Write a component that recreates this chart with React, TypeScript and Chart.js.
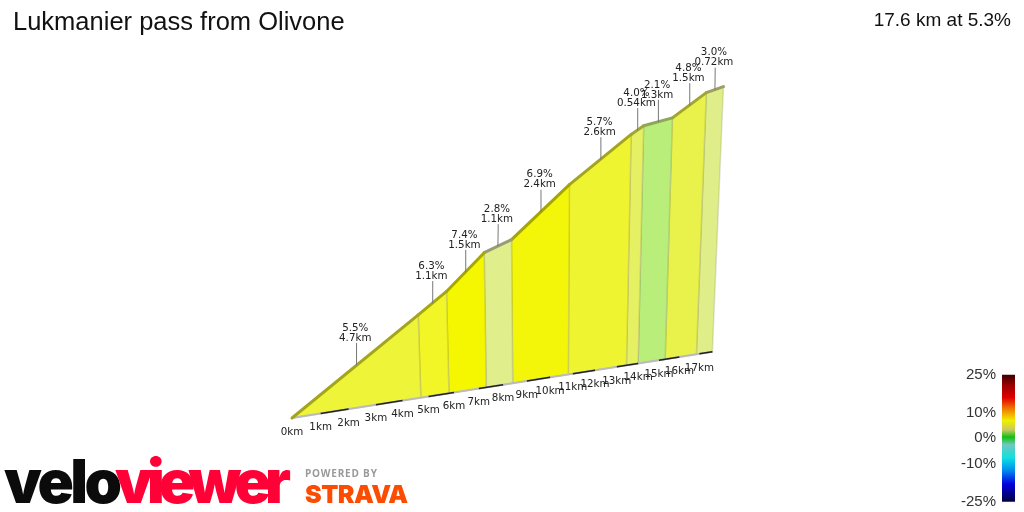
import React, { useEffect, useRef } from "react";
import { Chart, registerables } from "chart.js";

Chart.register(...registerables);

// climb segments
const segmentGrades = [5.5, 6.3, 7.4, 2.8, 6.9, 5.7, 4.0, 2.1, 4.8, 3.0];
const segmentLengths = ["4.7km", "1.1km", "1.5km", "1.1km", "2.4km", "2.6km", "0.54km", "1.3km", "1.5km", "0.72km"];
// distance and metres climbed at each segment boundary
const boundaryKm = [0, 4.7, 5.8, 7.3, 8.4, 10.8, 13.45, 14.0, 15.3, 16.85, 17.66];
const boundaryClimb = [0, 258, 321, 432, 466, 633, 792, 820, 844, 930, 950];
const kmTicks = [0, 1, 2, 3, 4, 5, 6, 7, 8, 9, 10, 11, 12, 13, 14, 15, 16, 17];
const legendTicks = [25, 10, 0, -10, -25];
const legendStops = [25, 21, 16, 12, 7, 3.3, 0.5, -2.5, -7.7, -12.4, -18, -25];

const segmentFills = ["#eef437", "#f2f526", "#f5f700", "#e0ee8c", "#f4f60a", "#eff431", "#e6f063", "#b9ee7a", "#e8f24a", "#dfee88"];
const ridgeColors = ["#a3a51c", "#a5a612", "#a6a800", "#9c9c72", "#a5a605", "#a3a51e", "#a2a53c", "#8fa858", "#a2a52e", "#9c9f60"];
const legendColors = ["#3c0000", "#9a0000", "#e00000", "#f07000", "#f0f000", "#c8c860", "#10c010", "#70c8c0", "#10e0e0", "#0090f0", "#0000e0", "#000040"];

// the profile is a wall seen in perspective, so km and metres go through this before plotting
function project(km: number, climb: number) {
  const depth = 1 + 0.01236 * km;
  const baseX = 292 + (29 * km) / depth;
  const baseY = 418 - 0.1575 * (baseX - 292);
  const h = (0.34 * climb) / depth;
  return { x: baseX + (baseX - 545) * 0.00025 * h, y: baseY - h };
}

const midpoint = (i: number) =>
  project((boundaryKm[i] + boundaryKm[i + 1]) / 2, (boundaryClimb[i] + boundaryClimb[i + 1]) / 2);

const textPlugin = {
  id: "profileText",
  afterDraw(chart: any) {
    const { ctx, scales } = chart;
    ctx.save();
    ctx.textBaseline = "middle";

    // headline
    ctx.fillStyle = "#111";
    ctx.textAlign = "left";
    ctx.font = '25.5px "Liberation Sans"';
    ctx.fillText("Lukmanier pass from Olivone", 13, 23);
    ctx.textAlign = "right";
    ctx.font = '19px "Liberation Sans"';
    ctx.fillText("17.6 km at 5.3%", 1011, 21);

    // km labels under the base line
    ctx.textAlign = "center";
    ctx.font = '10.3px "DejaVu Sans"';
    ctx.fillStyle = "#222";
    kmTicks.forEach((km) => {
      const p = project(km, 0);
      ctx.fillText(km + "km", scales.x.getPixelForValue(p.x), scales.y.getPixelForValue(p.y) + 14);
    });

    // segment labels on top of the leaders
    segmentGrades.forEach((grade, i) => {
      const p = midpoint(i);
      const x = scales.x.getPixelForValue(p.x) - 1;
      const y = scales.y.getPixelForValue(p.y);
      ctx.fillText(grade.toFixed(1) + "%", x, y - 37);
      ctx.fillText(segmentLengths[i], x, y - 27);
    });

    // gradient legend
    ctx.textAlign = "right";
    ctx.font = '15px "Liberation Sans"';
    ctx.fillStyle = "#333";
    legendTicks.forEach((t) => {
      ctx.fillText(t + "%", 996, scales.pct.getPixelForValue(t));
    });

    // logos
    ctx.textAlign = "left";
    ctx.textBaseline = "alphabetic";
    ctx.font = "900 60px Inter";
    ctx.letterSpacing = "-3.5px";
    ctx.fillStyle = "#0b0b0b";
    ctx.fillText("velo", 4, 503);
    ctx.letterSpacing = "-6px";
    ctx.fillStyle = "#ff0037";
    ctx.fillText("viewer", 115, 503);
    ctx.letterSpacing = "0.8px";
    ctx.font = '700 10px "Open Sans"';
    ctx.fillStyle = "#999";
    ctx.fillText("POWERED BY", 305, 477);
    ctx.letterSpacing = "-0.5px";
    ctx.font = "900 25px Inter";
    ctx.fillStyle = "#fc4c02";
    ctx.fillText("STRAVA", 305, 503);
    ctx.restore();
  },
};

function buildDatasets() {
  const sets: any[] = [];

  // leaders
  segmentGrades.forEach((_, i) => {
    const p = midpoint(i);
    sets.push({
      data: [p, { x: p.x + 0.3, y: p.y - 22 }],
      borderColor: "#777",
      borderWidth: 1,
    });
  });

  // ridge line, one piece per segment
  segmentGrades.forEach((_, i) => {
    sets.push({
      data: [project(boundaryKm[i], boundaryClimb[i]), project(boundaryKm[i + 1], boundaryClimb[i + 1])],
      borderColor: ridgeColors[i],
      borderWidth: 3,
      borderCapStyle: "round",
    });
  });

  // odd kilometres are dark on the base line
  kmTicks.filter((km) => km % 2 === 1).forEach((km) => {
    sets.push({
      data: [project(km, 0), project(Math.min(km + 1, boundaryKm[boundaryKm.length - 1]), 0)],
      borderColor: "#222",
      borderWidth: 1.5,
    });
  });
  sets.push({
    data: [project(0, 0), project(boundaryKm[boundaryKm.length - 1], 0)],
    borderColor: "#bbb",
    borderWidth: 2,
  });

  // segment walls
  segmentGrades.forEach((_, i) => {
    sets.push({
      data: [
        project(boundaryKm[i], 0),
        project(boundaryKm[i], boundaryClimb[i]),
        project(boundaryKm[i + 1], boundaryClimb[i + 1]),
        project(boundaryKm[i + 1], 0),
        project(boundaryKm[i], 0),
      ],
      borderColor: "rgba(110,110,80,0.2)",
      borderWidth: 1.5,
      backgroundColor: segmentFills[i],
      fill: "shape",
    });
  });

  // legend bar, on its own percent scale
  const barLeft = 1002;
  const barRight = 1015;
  sets.push({
    yAxisID: "pct",
    data: [
      { x: barLeft, y: 25 },
      { x: barRight, y: 25 },
      { x: barRight, y: -25 },
      { x: barLeft, y: -25 },
      { x: barLeft, y: 25 },
    ],
    borderWidth: 0,
    borderColor: "transparent",
    fill: "shape",
    backgroundColor: (c: any) => {
      const { ctx, scales, chartArea } = c.chart;
      if (!chartArea) return "#000";
      const top = scales.pct.getPixelForValue(25);
      const bottom = scales.pct.getPixelForValue(-25);
      if (!Number.isFinite(top) || !Number.isFinite(bottom)) return "#000";
      const g = ctx.createLinearGradient(0, top, 0, bottom);
      legendStops.forEach((s, i) => g.addColorStop((25 - s) / 50, legendColors[i]));
      return g;
    },
  });
  return sets;
}

export default function App() {
  const canvasRef = useRef<HTMLCanvasElement>(null);

  useEffect(() => {
    if (!canvasRef.current) return;
    const chart = new Chart(canvasRef.current, {
      type: "scatter",
      data: { datasets: buildDatasets().map((d) => ({ showLine: true, pointRadius: 0, clip: false, ...d })) },
      options: {
        animation: false,
        responsive: false,
        layout: { padding: 0 },
        plugins: { legend: { display: false }, tooltip: { enabled: false } },
        scales: {
          x: { type: "linear", display: false, min: 0, max: 1024 },
          y: { type: "linear", display: false, min: 0, max: 512, reverse: true },
          pct: { type: "linear", display: false, min: -29, max: 172.6 },
        },
      },
      plugins: [textPlugin],
    } as any);
    return () => chart.destroy();
  }, []);

  return (
    <div style={{ position: "fixed", left: 0, top: 0, width: 1024, height: 512, background: "#fff" }}>
      <canvas ref={canvasRef} width={1024} height={512} style={{ display: "block" }} />
    </div>
  );
}
